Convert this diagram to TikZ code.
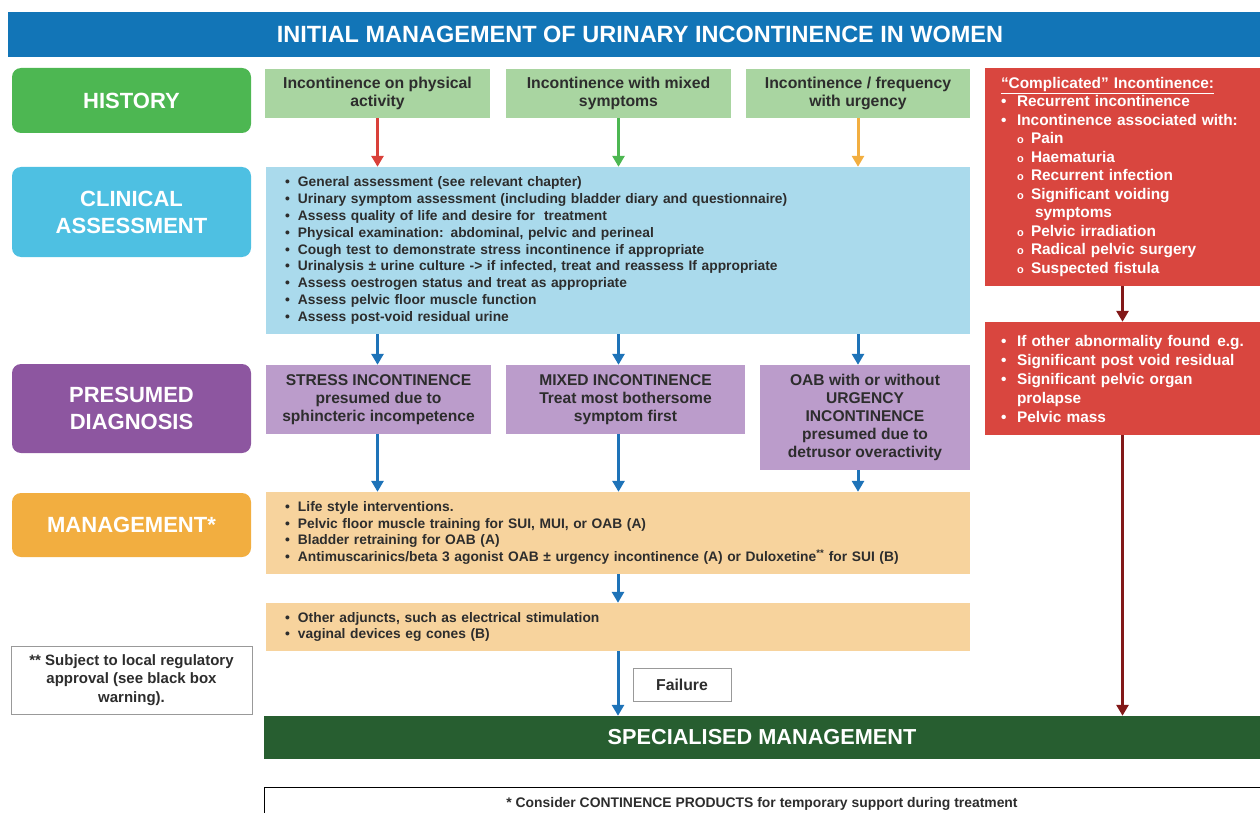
\documentclass[tikz,border=0pt]{standalone}
\usepackage{fontspec}
\setmainfont{Liberation Sans}
\usetikzlibrary{arrows.meta,positioning}
\definecolor{hdrblue}{RGB}{18,117,183}
\definecolor{histgreen}{RGB}{77,183,82}
\definecolor{palegreen}{RGB}{169,213,161}
\definecolor{clinblue}{RGB}{78,192,226}
\definecolor{paleblue}{RGB}{170,218,236}
\definecolor{diagpurple}{RGB}{141,86,160}
\definecolor{palepurple}{RGB}{187,156,203}
\definecolor{mgmtorange}{RGB}{242,174,64}
\definecolor{paleorange}{RGB}{247,211,157}
\definecolor{complred}{RGB}{217,70,63}
\definecolor{arrred}{RGB}{217,64,58}
\definecolor{darkred}{RGB}{130,24,24}
\definecolor{arrblue}{RGB}{30,115,184}
\definecolor{specgreen}{RGB}{39,94,48}
\definecolor{txtgray}{RGB}{45,45,45}
\newcommand{\fsz}[2]{\fontsize{#1}{#2}\selectfont}
\newcommand{\bl}[2][13pt]{\makebox[#1][l]{\textbullet}#2}
\newcommand{\sbl}[1]{\hspace*{16pt}\makebox[14pt][l]{\fsz{11}{11}o}#1}

\begin{document}
\begin{tikzpicture}[x=1pt,y=-1pt,
  sidebox/.style={rounded corners=9pt,minimum width=239pt,text=white,font=\bfseries\fsz{22}{27},align=center},
  histbox/.style={fill=palegreen,minimum height=49pt,text=txtgray,font=\bfseries\fsz{15.8}{18},align=center,inner sep=0pt},
  listbox/.style={minimum width=704pt,text width=666pt,inner xsep=19pt,align=left,text=txtgray,font=\bfseries\fsz{13.8}{16.8}},
  diagbox/.style={fill=palepurple,text=txtgray,font=\bfseries\fsz{15.6}{18},align=center,inner sep=0pt},
  complbox/.style={fill=complred,minimum width=275pt,text width=243pt,inner xsep=16pt,align=left,text=white,font=\bfseries\fsz{15.4}{18.5}},
  arr/.style={-{Triangle[width=12pt,length=11pt]},line width=3pt}
]
\useasboundingbox (0,0) rectangle (1260,813);
\clip (0,0) rectangle (1260,813);

\node[fill=hdrblue,minimum width=1264pt,minimum height=45pt,text=white,font=\bfseries\fsz{23.5}{27}] (title) at (640,34.5) {INITIAL MANAGEMENT OF URINARY INCONTINENCE IN WOMEN};

% left column
\node[sidebox,fill=histgreen,minimum height=65pt] (hist) at (131.5,100.5) {HISTORY};
\node[sidebox,fill=clinblue,minimum height=90pt] (clin) at (131.5,212) {CLINICAL\\ASSESSMENT};
\node[sidebox,fill=diagpurple,minimum height=89pt] (diag) at (131.5,408.5) {PRESUMED\\DIAGNOSIS};
\node[sidebox,fill=mgmtorange,minimum height=64pt] (mgmt) at (131.5,525) {MANAGEMENT*};
\node[draw=gray!80,fill=white,minimum width=241pt,minimum height=68pt,align=center,text=txtgray,font=\bfseries\fsz{15}{18.5}] (note) at (131.5,680) {** Subject to local regulatory\\approval (see black box\\warning).};

% history
\node[histbox,minimum width=225pt] (h1) at (377.5,93.5) {Incontinence on physical\\activity};
\node[histbox,minimum width=225pt] (h2) at (618.5,93.5) {Incontinence with mixed\\symptoms};
\node[histbox,minimum width=224pt] (h3) at (858,93.5) {Incontinence / frequency\\with urgency};

% clinical assessment
\node[listbox,fill=paleblue,minimum height=167pt] (ca) at (618,250.5) {%
\bl{General assessment (see relevant chapter)}\\
\bl{Urinary symptom assessment (including bladder diary and questionnaire)}\\
\bl{Assess quality of life and desire for\ \ treatment}\\
\bl{Physical examination: abdominal, pelvic and perineal}\\
\bl{Cough test to demonstrate stress incontinence if appropriate}\\
\bl{Urinalysis ± urine culture -> if infected, treat and reassess If appropriate}\\
\bl{Assess oestrogen status and treat as appropriate}\\
\bl{Assess pelvic floor muscle function}\\
\bl{Assess post-void residual urine}};

% presumed diagnosis
\node[diagbox,minimum width=225pt,minimum height=69pt] (d1) at (378.5,399.5) {STRESS INCONTINENCE\\presumed due to\\sphincteric incompetence};
\node[diagbox,minimum width=239pt,minimum height=69pt] (d2) at (625.5,399.5) {MIXED INCONTINENCE\\Treat most bothersome\\symptom first};
\node[diagbox,minimum width=210pt,minimum height=105pt] (d3) at (865,417.5) {OAB with or without\\URGENCY\\INCONTINENCE\\presumed due to\\detrusor overactivity};

% management
\node[listbox,fill=paleorange,minimum height=82pt] (mg) at (618,533) {%
\bl{Life style interventions.}\\
\bl{Pelvic floor muscle training for SUI, MUI, or OAB (A)}\\
\bl{Bladder retraining for OAB (A)}\\
\bl{Antimuscarinics/beta 3 agonist OAB ± urgency incontinence (A) or Duloxetine\textsuperscript{**} for SUI (B)}};
\node[listbox,fill=paleorange,minimum height=48pt] (adj) at (618,627) {%
\bl{Other adjuncts, such as electrical stimulation}\\
\bl{vaginal devices eg cones (B)}};

% complicated incontinence
\node[complbox,minimum height=218pt] (cx1) at (1122.5,177) {%
\underline{“Complicated” Incontinence:}\\
\bl[16pt]{Recurrent incontinence}\\
\bl[16pt]{Incontinence associated with:}\\
\sbl{Pain}\\
\sbl{Haematuria}\\
\sbl{Recurrent infection}\\
\sbl{Significant voiding}\\
\hspace*{34pt}symptoms\\
\sbl{Pelvic irradiation}\\
\sbl{Radical pelvic surgery}\\
\sbl{Suspected fistula}};
\node[complbox,minimum height=113pt,font=\bfseries\fsz{15.4}{19}] (cx2) at (1122.5,378.5) {%
\bl[16pt]{\mbox{If other abnormality found\hspace{7pt}e.g.}}\\
\bl[16pt]{Significant post void residual}\\
\bl[16pt]{Significant pelvic organ}\\
\hspace*{16pt}prolapse\\
\bl[16pt]{Pelvic mass}};

% bottom
\node[draw=gray!80,fill=white,minimum width=98pt,minimum height=33pt,text=txtgray,font=\bfseries\fsz{15.8}{18}] (fail) at (682,684.5) {Failure};
\node[fill=specgreen,minimum width=996pt,minimum height=43pt,text=white,font=\bfseries\fsz{21.7}{24}] (spec) at (762,737.5) {SPECIALISED MANAGEMENT};
\node[draw=black,fill=white,minimum width=996pt,minimum height=34pt,text=txtgray,font=\bfseries\fsz{13.9}{15}] (prod) at (762,804) {* Consider CONTINENCE PRODUCTS for temporary support during treatment};

\draw[arr,arrred] (h1) -- (h1 |- ca.north);
\draw[arr,histgreen] (h2) -- (h2 |- ca.north);
\draw[arr,mgmtorange] (h3) -- (h3 |- ca.north);

\draw[arr,arrblue] (h1 |- ca.south) -- (h1 |- d1.north);
\draw[arr,arrblue] (h2 |- ca.south) -- (h2 |- d2.north);
\draw[arr,arrblue] (h3 |- ca.south) -- (h3 |- d3.north);
\draw[arr,arrblue] (h1 |- d1.south) -- (h1 |- mg.north);
\draw[arr,arrblue] (h2 |- d2.south) -- (h2 |- mg.north);
\draw[arr,arrblue] (h3 |- d3.south) -- (h3 |- mg.north);
\draw[arr,arrblue] (mg) -- (adj);
\draw[arr,arrblue] (adj) -- (adj |- spec.north);

\draw[arr,darkred] (cx1) -- (cx2);
\draw[arr,darkred] (cx2) -- (cx2 |- spec.north);
\end{tikzpicture}
\end{document}
